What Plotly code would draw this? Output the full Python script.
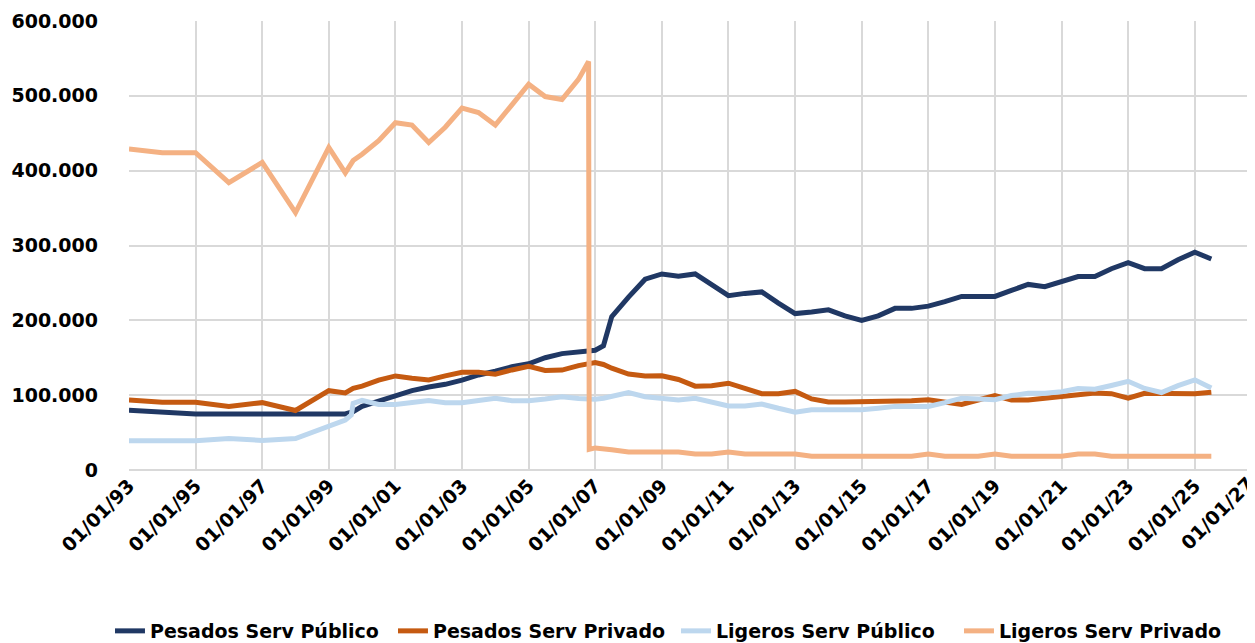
import plotly.graph_objects as go

dates = [
    "1993-01-01", "1994-01-01", "1995-01-01", "1996-01-01", "1997-01-01", "1998-01-01",
    "1999-01-01", "1999-07-01", "1999-09-05", "1999-09-25", "2000-01-01", "2000-07-01",
    "2001-01-01", "2001-07-01", "2002-01-01", "2002-07-01", "2003-01-01", "2003-07-01",
    "2004-01-01", "2004-07-01", "2005-01-01", "2005-07-01", "2006-01-01", "2006-07-01",
    "2006-10-20", "2006-10-27", "2007-01-01", "2007-04-01", "2007-07-01",
    "2008-01-01", "2008-07-01", "2009-01-01", "2009-07-01", "2010-01-01", "2010-07-01",
    "2011-01-01", "2011-07-01", "2012-01-01", "2012-07-01", "2013-01-01", "2013-07-01",
    "2014-01-01", "2014-07-01", "2015-01-01", "2015-07-01", "2016-01-01", "2016-07-01",
    "2017-01-01", "2017-07-01", "2018-01-01", "2018-07-01", "2019-01-01", "2019-07-01",
    "2020-01-01", "2020-07-01", "2021-01-01", "2021-07-01", "2022-01-01", "2022-07-01",
    "2023-01-01", "2023-07-01", "2024-01-01", "2024-07-01", "2025-01-01", "2025-07-01",
]

pesados_publico = [
    80000, 77000, 75000, 75000, 75000, 75000,
    75000, 75000, None, 78000, 85000, 92000,
    99000, 106000, 111000, 114500, 120000, 127000,
    132000, 138000, 142000, 150000, 155500, 157000,
    None, None, 160000, 166000, 205000,
    231000, 255000, 262000, 259000, 262000, 247000,
    233000, 236000, 238000, 223000, 209000, 211000,
    214000, 206000, 200000, 206000, 216000, 216000,
    219000, 225000, 232000, 232000, 232000, 240000,
    248000, 245000, 251000, 258500, 258500, 269000,
    277000, 269000, 269000, 281000, 291000, 282000,
]

pesados_privado = [
    93600, 90500, 90500, 85000, 90000, 79500,
    106000, 103000, None, 109000, 112000, 120000,
    125700, 122600, 120300, 125700, 130600, 130600,
    128000, 133700, 138500, 133000, 133500, 139500,
    None, None, 143500, 141000, 136000,
    128300, 125700, 126000, 121000, 112000, 112500,
    116000, 109000, 102000, 102000, 105000, 95000,
    91000, 91000, 91000, 91000, 91000, 92500,
    94000, 91000, 87500, 93500, 99500, 93500,
    93500, 96000, 98500, 102000, 103000, 102000,
    96000, 102500, 102000, 102000, 102000, 104000,
]

ligeros_publico = [
    39200, 39200, 39200, 42000, 39500, 42000,
    58800, 66800, 73500, 89000, 93000, 87500,
    87500, 90000, 93000, 90000, 90000, 93000,
    95800, 92700, 92700, 95000, 98000, 95500,
    None, None, 94500, 95800, 98500,
    103500, 98000, 96000, 93600, 95800, 90500,
    85600, 85600, 88200, 82500, 77300, 80500,
    80500, 80500, 80500, 82500, 85000, 85000,
    85000, 90000, 96000, 95000, 94000, 99500,
    102500, 102500, 104500, 109000, 108000, 113000,
    118500, 109000, 103500, 112800, 120500, 109500,
]

ligeros_privado = [
    429000, 424000, 424000, 384000, 411000, 344000,
    431000, 397000, None, 413500, 422000, 440000,
    464000, 461000, 437600, 458000, 483600, 477700,
    461000, 488000, 515600, 499000, 495000, 522000,
    546000, 27600, 29500, None, 27000,
    24000, 24000, 24000, 24000, 21500, 21500,
    24000, 21500, 21500, 21500, 21500, 18500,
    18500, 18500, 18500, 18500, 18500, 18500,
    21500, 18500, 18500, 18500, 21500, 18500,
    18500, 18500, 18500, 21500, 21500, 18500,
    18500, 18500, 18500, 18500, 18500, 18500,
]

series_names = ["Pesados Serv Público", "Pesados Serv Privado",
                "Ligeros Serv Público", "Ligeros Serv Privado"]
series_values = [pesados_publico, pesados_privado, ligeros_publico, ligeros_privado]
series_colors = ["#203864", "#c55a11", "#bdd7ee", "#f4b183"]

FONT = "DejaVu Sans"
FS = 19
bold = dict(family=FONT, size=FS, color="black", weight="bold")

fig = go.Figure()
for i in range(4):
    fig.add_trace(go.Scatter(
        x=dates, y=series_values[i], name=series_names[i], mode="lines",
        connectgaps=True,
        line=dict(color=series_colors[i], width=5, shape="linear"),
    ))

# page body has an 8px default margin, so the figure is 8px smaller
fig.update_layout(
    width=1247, height=635,
    margin=dict(l=121, r=0, t=13, b=173, autoexpand=False),
    paper_bgcolor="white", plot_bgcolor="white",
    separators=",.",
    font=bold,
    showlegend=True,
    legend=dict(orientation="h", x=-0.0169, xanchor="left", y=-0.3586, yanchor="middle",
                font=bold, entrywidth=238, entrywidthmode="pixels",
                bgcolor="rgba(0,0,0,0)"),
)
fig.update_xaxes(
    type="date",
    range=["1993-01-01", "2026-10-23"],
    tick0="1993-01-01", dtick="M24", tickformat="%d/%m/%y",
    tickangle=-45, showgrid=True, gridcolor="#d9d9d9", gridwidth=1.5,
    showline=False, zeroline=False, ticks="", automargin=False,
    tickfont=bold,
)
fig.update_yaxes(
    range=[0, 600000], dtick=100000, tickformat=",d",
    showgrid=True, gridcolor="#d9d9d9", gridwidth=1.5,
    zeroline=True, zerolinecolor="#d9d9d9", zerolinewidth=1.5,
    showline=False, ticks="", ticklabelstandoff=30, automargin=False,
    tickfont=bold,
)
fig.add_annotation(
    text="01/01/27", xref="paper", yref="paper", x=1.0053, y=0,
    xanchor="right", yanchor="top", textangle=-45, showarrow=False,
    font=bold,
)

fig.write_html("out.html")
